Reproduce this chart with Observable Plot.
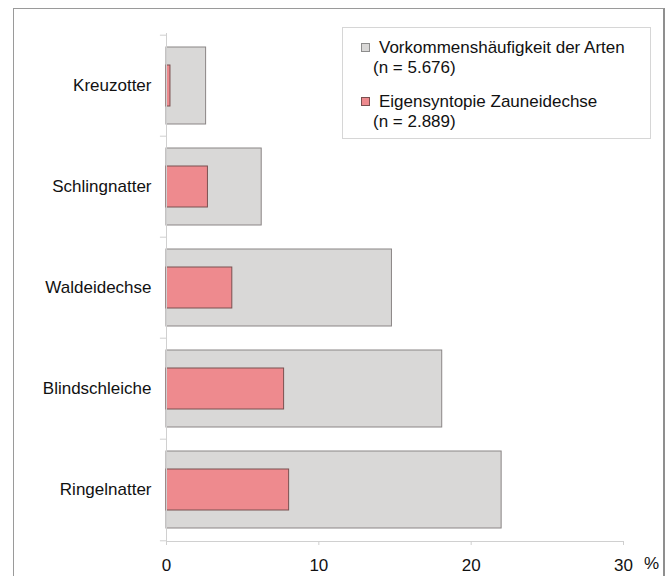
<!DOCTYPE html>
<html>
<head>
<meta charset="utf-8">
<script src="https://cdn.jsdelivr.net/npm/d3@7"></script>
<script src="https://cdn.jsdelivr.net/npm/@observablehq/plot@0.6"></script>
<style>
  html, body { margin: 0; padding: 0; background: #fff; }
  #wrap { position: relative; width: 667px; height: 576px; overflow: hidden; font-family: "Liberation Sans", Arial, sans-serif; color: #111; }
  #outer { position: absolute; left: 13px; top: 8px; width: 649px; height: 600px; border: 1px solid #9a9a9a; border-right: 2px solid #8f8f8f; border-bottom: none; }
  #chart { position: absolute; left: 0; top: 0; }
  #legend { position: absolute; left: 342px; top: 27px; width: 307px; height: 110px; border: 1px solid #d6d6d6; background: #fff; }
  .lt { position: absolute; font-size: 17px; line-height: 20px; white-space: nowrap; }
  .sw { position: absolute; width: 7px; height: 7px; }
  #pct { position: absolute; left: 644px; top: 554px; font-size: 17px; line-height: 20px; }
</style>
</head>
<body>
<div id="wrap">
  <div id="outer"></div>
  <div id="chart"></div>
  <div id="legend"></div>
  <div id="pct">%</div>
</div>
<script>
const species = ["Kreuzotter", "Schlingnatter", "Waldeidechse", "Blindschleiche", "Ringelnatter"];
const occurrence = [2.6, 6.25, 14.8, 18.1, 22.0];   // Vorkommenshäufigkeit der Arten (%)
const syntopy = [0.26, 2.72, 4.32, 7.72, 8.05];     // Eigensyntopie Zauneidechse (%)
const xTicks = [0, 10, 20, 30];
const legendSeries = ["Vorkommenshäufigkeit der Arten", "Eigensyntopie Zauneidechse"];
const legendN = ["(n = 5.676)", "(n = 2.889)"];

const grayFill = "#d9d8d7", grayStroke = "#8a8585";
const pinkFill = "#ee8a8e", pinkStroke = "#7a5050";

const data = species.map((s, i) => ({species: s, occ: occurrence[i], syn: syntopy[i]}));

const W = 667, H = 576, mT = 33, mB = 35, mL = 166, mR = 44;
const step = (H - mT - mB) / species.length;

const plot = Plot.plot({
  width: W, height: H,
  marginLeft: mL, marginRight: mR, marginTop: mT, marginBottom: mB,
  style: {fontSize: "17px", fontFamily: "Liberation Sans, Arial, sans-serif", color: "#111", background: "transparent"},
  x: {domain: [0, 30]},
  y: {domain: species, padding: 0},
  marks: [
    Plot.ruleY(species, {y: d => d, x1: -0.4, x2: 0, dy: -step / 2, stroke: "#cfcfcf"}),
    Plot.ruleY(species.slice(-1), {y: d => d, x1: -0.4, x2: 0, dy: step / 2, stroke: "#cfcfcf"}),
    Plot.barX(data, {y: "species", x: "occ", fill: grayFill, stroke: grayStroke, insetTop: 12, insetBottom: 12}),
    Plot.barX(data, {y: "species", x: "syn", fill: pinkFill, stroke: pinkStroke, insetTop: 30, insetBottom: 30}),
    Plot.ruleX([0], {stroke: "#d0d0d0"}),
    Plot.frame({anchor: "bottom", stroke: "#d0d0d0"}),
    Plot.axisX(xTicks, {tickSize: 4, tickPadding: 13, stroke: "#cfcfcf", label: null}),
    Plot.axisY({tickSize: 0, tickPadding: 15, label: null})
  ]
});
document.getElementById("chart").appendChild(plot);

// Legend (HTML)
const lg = document.getElementById("legend");
const legendDefs = [
  {name: legendSeries[0], n: legendN[0], fill: grayFill, stroke: "#8d8d8d", top: 10},
  {name: legendSeries[1], n: legendN[1], fill: pinkFill, stroke: pinkStroke, top: 64}
];
legendDefs.forEach(d => {
  const sw = document.createElement("div");
  sw.className = "sw";
  sw.style.left = "18px";
  sw.style.top = (d.top + 5) + "px";
  sw.style.background = d.fill;
  sw.style.border = "1px solid " + d.stroke;
  lg.appendChild(sw);
  const t1 = document.createElement("div");
  t1.className = "lt";
  t1.style.left = "36px";
  t1.style.top = (d.top) + "px";
  t1.textContent = d.name;
  lg.appendChild(t1);
  const t2 = document.createElement("div");
  t2.className = "lt";
  t2.style.left = "30px";
  t2.style.top = (d.top + 20) + "px";
  t2.textContent = d.n;
  lg.appendChild(t2);
});
</script>
</body>
</html>
